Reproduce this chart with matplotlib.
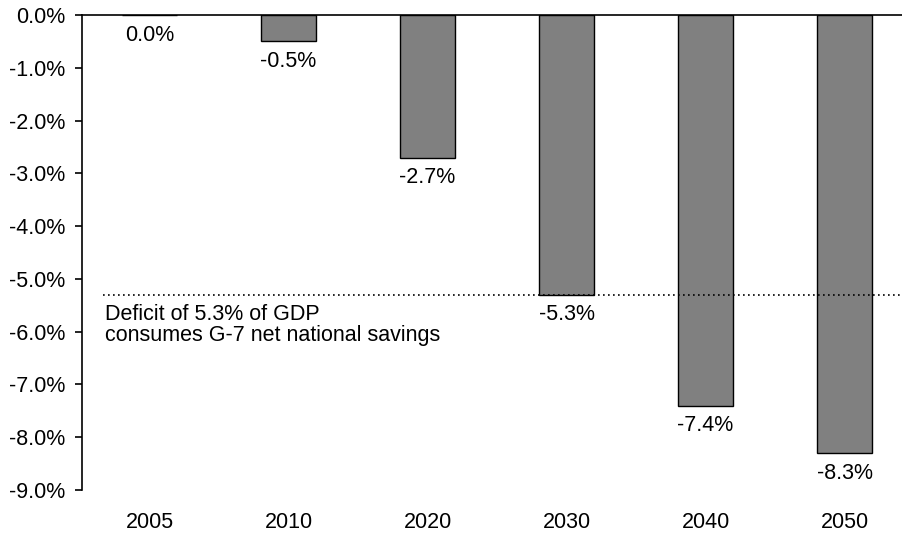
import matplotlib
matplotlib.use("Agg")
from matplotlib import pyplot as plt
from matplotlib.ticker import FuncFormatter

plt.rcParams['font.family'] = ['Liberation Sans', 'DejaVu Sans']

# Fiscal gap as a share of GDP, by year
YEARS = ["2005", "2010", "2020", "2030", "2040", "2050"]
GAP = [0.0, -0.5, -2.7, -5.3, -7.4, -8.3]
THRESHOLD = -5.3
NOTE = "Deficit of 5.3% of GDP\nconsumes G-7 net national savings"
FS = 15.5

fig = plt.figure(figsize=(9.03, 5.35), dpi=100)
ax = fig.add_axes([82 / 903, 45 / 535, 821 / 903, 475 / 535])

x = range(len(YEARS))
ax.bar(x, GAP, width=0.396, color="#808080", edgecolor="black", linewidth=1.0, zorder=2)

for xi, v in zip(x, GAP):
    ax.annotate(f"{v:.1f}%", (xi, v), xytext=(0, -7), textcoords="offset points",
                ha="center", va="top", fontsize=FS)

ax.axhline(THRESHOLD, xmin=(103 - 82) / 821, xmax=1, color="black",
           linestyle=(0, (1, 2)), linewidth=1.2, zorder=3)
ax.text(-0.32, THRESHOLD - 0.17, NOTE, ha="left", va="top", fontsize=FS, linespacing=1.0)

ax.set_xlim(-0.486, 5.42)
ax.set_ylim(-9.0, 0.0)
ax.set_yticks([-9, -8, -7, -6, -5, -4, -3, -2, -1, 0])
ax.yaxis.set_major_formatter(FuncFormatter(lambda v, _: f"{v:.1f}%"))
ax.set_xticks(list(x))
ax.set_xticklabels(YEARS)

ax.spines["right"].set_visible(False)
ax.spines["bottom"].set_visible(False)
ax.spines["top"].set_linewidth(1.2)
ax.spines["left"].set_linewidth(1.2)
ax.tick_params(axis="y", direction="out", length=5, width=1.2, labelsize=FS, pad=7)
ax.tick_params(axis="x", length=0, labelsize=FS, pad=16)

fig.savefig("out.png", dpi=100)
